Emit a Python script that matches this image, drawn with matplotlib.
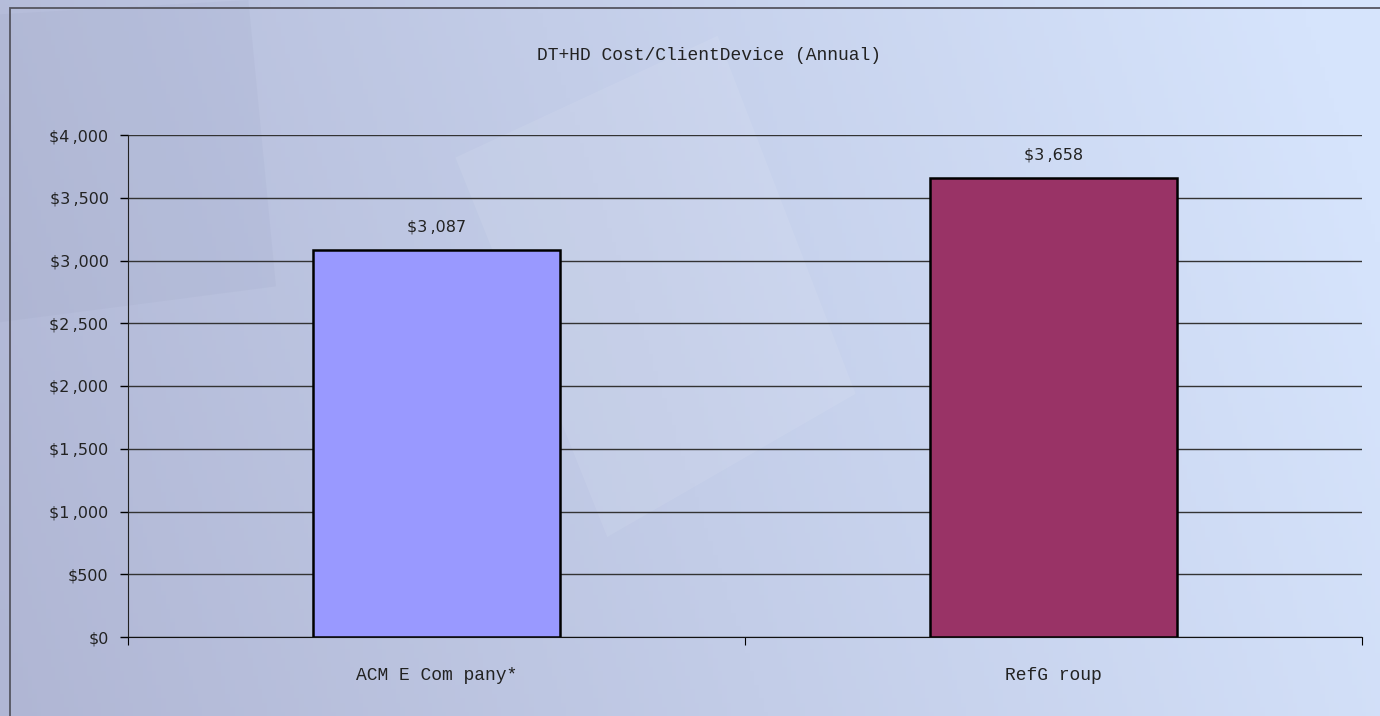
import numpy as np
import matplotlib.pyplot as plt
from matplotlib.patches import Rectangle, Polygon
from matplotlib.ticker import FuncFormatter, MultipleLocator

# chart data
categories = ['ACM E Com pany*', 'RefG roup']
values = [3087, 3658]
bar_colors = ['#9999ff', '#993366']
title = 'DT+HD Cost/ClientDevice (Annual)'

W, H = 1380, 716
fig = plt.figure(figsize=(W / 100, H / 100), dpi=100)

# background gradient
bg = fig.add_axes([0, 0, 1, 1], zorder=-10)
xx, yy = np.meshgrid(np.linspace(0, 1, 300), np.linspace(0, 1, 160))
left = np.array([176, 182, 212]) / 255
right = np.array([214, 228, 252]) / 255
t = np.clip(xx * 0.9 + (1 - yy) * 0.15, 0, 1)[..., None]
img = left * (1 - t) + right * t
bg.imshow(img, extent=[0, 1, 0, 1], aspect='auto', origin='upper')
# faint shapes
bg.add_patch(Polygon([[0.33, 0.78], [0.52, 0.95], [0.62, 0.45], [0.44, 0.25]],
                     closed=True, facecolor='white', alpha=0.08, edgecolor='none'))
bg.add_patch(Polygon([[0.0, 0.98], [0.18, 1.0], [0.2, 0.6], [0.0, 0.55]],
                     closed=True, facecolor='#9098b8', alpha=0.10, edgecolor='none'))
bg.add_patch(Rectangle((10 / W, -0.1), 1.2, 1 - 8 / H + 0.1, fill=False,
                       edgecolor='#555560', linewidth=1.3, transform=bg.transAxes))
bg.set_xlim(0, 1)
bg.set_ylim(0, 1)
bg.axis('off')

ax = fig.add_axes([128 / W, 1 - 637 / H, (1362 - 128) / W, (637 - 135) / H])
ax.patch.set_alpha(0)
x = np.arange(len(categories))
bars = ax.bar(x, values, width=0.4, color=bar_colors, edgecolor='black', linewidth=1.8, zorder=3)
ax.set_xlim(-0.5, 1.5)
ax.set_ylim(0, 4000)
ax.yaxis.set_major_locator(MultipleLocator(500))
ax.yaxis.set_major_formatter(FuncFormatter(lambda v, p: '${:,.0f}'.format(v).replace(',', '\u2009,')))
ax.grid(axis='y', color='#333333', linewidth=1, zorder=0)
for s in ['top', 'right']:
    ax.spines[s].set_visible(False)
ax.spines['left'].set_color('#222222')
ax.spines['bottom'].set_color('#111111')
ax.tick_params(axis='y', length=6, width=1, labelsize=11.5, labelcolor='#222222', pad=8)
ax.set_xticks([-0.5, 0.5, 1.5])
ax.set_xticklabels([])
ax.tick_params(axis='x', length=6, direction='out')
for i, c in enumerate(categories):
    ax.text(x[i], -310, c, ha='center', va='center', family='Liberation Mono', fontsize=13, color='#222222')
for b, v in zip(bars, values):
    ax.text(b.get_x() + b.get_width() / 2, v + 180, '$' + '{:,}'.format(v).replace(',', '\u2009,'),
            ha='center', va='center', fontsize=11.5, color='#222222')

fig.text(709 / W, 1 - 55 / H, title, ha='center', va='center', family='Liberation Mono',
         fontsize=13, color='#222222')

fig.savefig('out.png', dpi=100)
